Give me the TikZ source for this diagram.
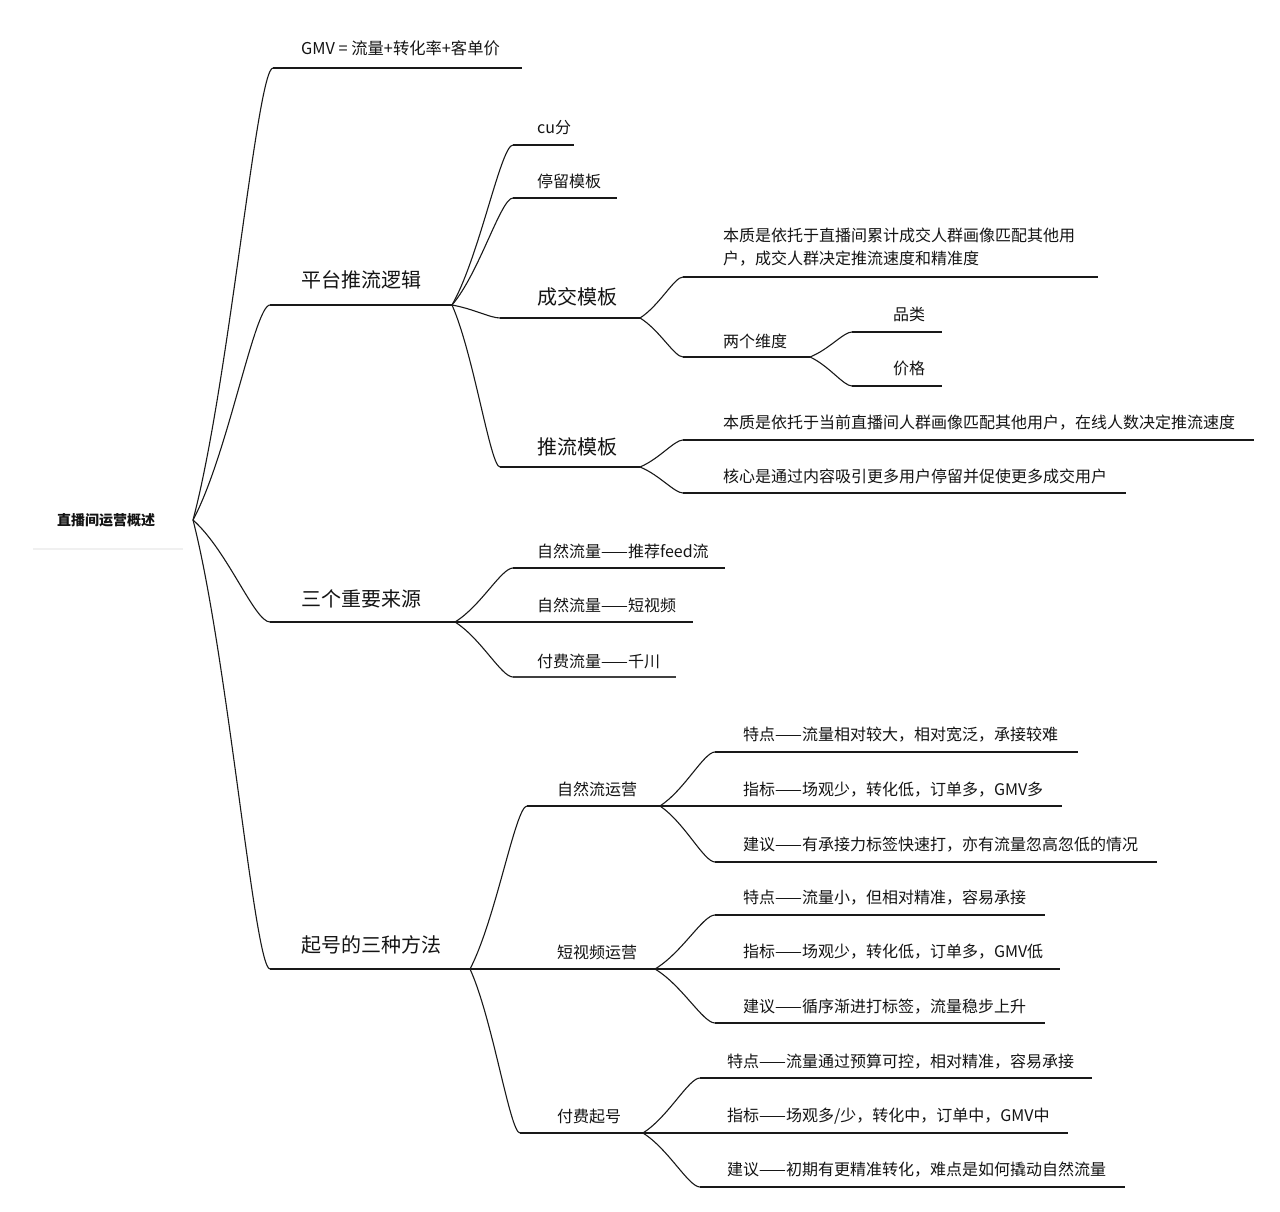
\documentclass[tikz,border=0pt]{standalone}
\usepackage{fontspec}
\setmainfont{Noto Sans CJK SC}
\usetikzlibrary{calc}
\tikzset{
  conn/.style={line width=1.1pt, draw=black!90},
  uline/.style={line width=1.1pt, draw=black!90},
  lab/.style={anchor=west, inner sep=0pt, text=black!92},
  bigl/.style={lab, font=\fontsize{20}{24}\selectfont},
  midl/.style={lab, font=\fontsize{16}{23}\selectfont},
  rootl/.style={lab, font=\fontsize{14}{18}\selectfont\bfseries},
}
\newcommand\mmconn[2]{\draw[conn] let \p1=(#1), \p2=(#2) in (\p1) .. controls ({\x1+0.45*(\x2-\x1)},{\y1+0.3*(\y2-\y1)}) and ({\x1+0.8*(\x2-\x1)},\y2) .. (\p2);}
\newcommand\mmbranch[5]{% name, startx, endx, y, style opts
  \coordinate (#1S) at (#2,#4);
  \coordinate (#1E) at (#3,#4);
  \draw[uline,#5] (#1S) -- (#1E);}
\begin{document}
\begin{tikzpicture}[x=1pt,y=-1pt]
\fill[white] (0,0) rectangle (1280,1212);
\useasboundingbox (0,0) rectangle (1280,1212);

% root
\node[rootl] (rootT) at (57,520) {直播间运营概述};
\coordinate (root) at (193,520);
\draw[black!6, line width=1.5pt] (33,549) -- (183,549);

% level 1
\mmbranch{gmv}{273}{522}{68}{}
\node[lab, font=\fontsize{16.3}{20}\selectfont] (gmvT) at (301,48) {GMV = 流量+转化率+客单价};
\mmconn{root}{gmvS}

\mmbranch{pt}{270}{452}{305}{}
\node[bigl] (ptT) at (301,280) {平台推流逻辑};
\mmconn{root}{ptS}

\mmbranch{sg}{270}{455}{622}{}
\node[bigl] (sgT) at (301,599) {三个重要来源};
\mmconn{root}{sgS}

\mmbranch{qh}{270}{470}{969}{}
\node[bigl] (qhT) at (301,945) {起号的三种方法};
\mmconn{root}{qhS}

% level 2: 平台推流逻辑
\mmbranch{cu}{513}{574}{145}{}
\node[midl] (cuT) at (537,128) {cu分};
\mmconn{ptE}{cuS}

\mmbranch{tl}{513}{617}{198}{}
\node[midl] (tlT) at (537,181) {停留模板};
\mmconn{ptE}{tlS}

\mmbranch{cj}{500}{640}{318}{}
\node[bigl] (cjT) at (537,297) {成交模板};
\mmconn{ptE}{cjS}

\mmbranch{tm}{500}{640}{467}{}
\node[bigl] (tmT) at (537,447) {推流模板};
\mmconn{ptE}{tmS}

% level 3: 成交模板
\mmbranch{ca}{683}{1098}{277}{}
\node[midl, align=left] (caT) at (723,247.5) {本质是依托于直播间累计成交人群画像匹配其他用\\户，成交人群决定推流速度和精准度};
\mmconn{cjE}{caS}

\mmbranch{wd}{683}{810}{357}{}
\node[midl] (wdT) at (723,341) {两个维度};
\mmconn{cjE}{wdS}

\mmbranch{pl}{852}{942}{332}{}
\node[midl] (plT) at (893,314) {品类};
\mmconn{wdE}{plS}

\mmbranch{jg}{852}{942}{386}{}
\node[midl] (jgT) at (893,368) {价格};
\mmconn{wdE}{jgS}

% level 3: 推流模板
\mmbranch{ta}{683}{1254}{440}{}
\node[midl] (taT) at (723,423) {本质是依托于当前直播间人群画像匹配其他用户，在线人数决定推流速度};
\mmconn{tmE}{taS}

\mmbranch{tb}{683}{1126}{493}{}
\node[midl] (tbT) at (723,476) {核心是通过内容吸引更多用户停留并促使更多成交用户};
\mmconn{tmE}{tbS}

% level 2: 三个重要来源
\mmbranch{sa}{513}{725}{568}{}
\node[midl] (saT) at (537,551) {自然流量——推荐feed流};
\mmconn{sgE}{saS}

\mmbranch{sb}{513}{693}{622}{}
\node[midl] (sbT) at (537,605) {自然流量——短视频};
\draw[conn] (sgE) -- (sbS);

\mmbranch{sc}{513}{676}{677}{line width=2pt, draw=black!75}
\node[midl] (scT) at (537,661) {付费流量——千川};
\mmconn{sgE}{scS}

% level 2: 起号的三种方法
\mmbranch{zr}{527}{660}{806}{}
\node[midl] (zrT) at (557,789) {自然流运营};
\mmconn{qhE}{zrS}

\mmbranch{ds}{527}{655}{969}{}
\node[midl] (dsT) at (557,952) {短视频运营};
\draw[conn] (qhE) -- (dsS);

\mmbranch{ff}{520}{643}{1133}{}
\node[midl] (ffT) at (557,1116) {付费起号};
\mmconn{qhE}{ffS}

% 自然流运营
\mmbranch{za}{715}{1078}{752}{}
\node[midl] (zaT) at (743,735) {特点——流量相对较大，相对宽泛，承接较难};
\mmconn{zrE}{zaS}

\mmbranch{zb}{715}{1062}{806}{}
\node[midl] (zbT) at (743,790) {指标——场观少，转化低，订单多，GMV多};
\draw[conn] (zrE) -- (zbS);

\mmbranch{zc}{715}{1157}{862}{}
\node[midl] (zcT) at (743,845) {建议——有承接力标签快速打，亦有流量忽高忽低的情况};
\mmconn{zrE}{zcS}

% 短视频运营
\mmbranch{da}{715}{1045}{915}{}
\node[midl] (daT) at (743,898) {特点——流量小，但相对精准，容易承接};
\mmconn{dsE}{daS}

\mmbranch{db}{715}{1060}{969}{}
\node[midl] (dbT) at (743,952) {指标——场观少，转化低，订单多，GMV低};
\draw[conn] (dsE) -- (dbS);

\mmbranch{dc}{715}{1045}{1023}{}
\node[midl] (dcT) at (743,1007) {建议——循序渐进打标签，流量稳步上升};
\mmconn{dsE}{dcS}

% 付费起号
\mmbranch{fa}{700}{1092}{1078}{line width=2pt}
\node[midl] (faT) at (727,1062) {特点——流量通过预算可控，相对精准，容易承接};
\mmconn{ffE}{faS}

\mmbranch{fb}{700}{1068}{1133}{}
\node[midl] (fbT) at (727,1116) {指标——场观多/少，转化中，订单中，GMV中};
\draw[conn] (ffE) -- (fbS);

\mmbranch{fc}{700}{1125}{1187}{}
\node[midl] (fcT) at (727,1170) {建议——初期有更精准转化，难点是如何撬动自然流量};
\mmconn{ffE}{fcS}
\end{tikzpicture}
\end{document}
